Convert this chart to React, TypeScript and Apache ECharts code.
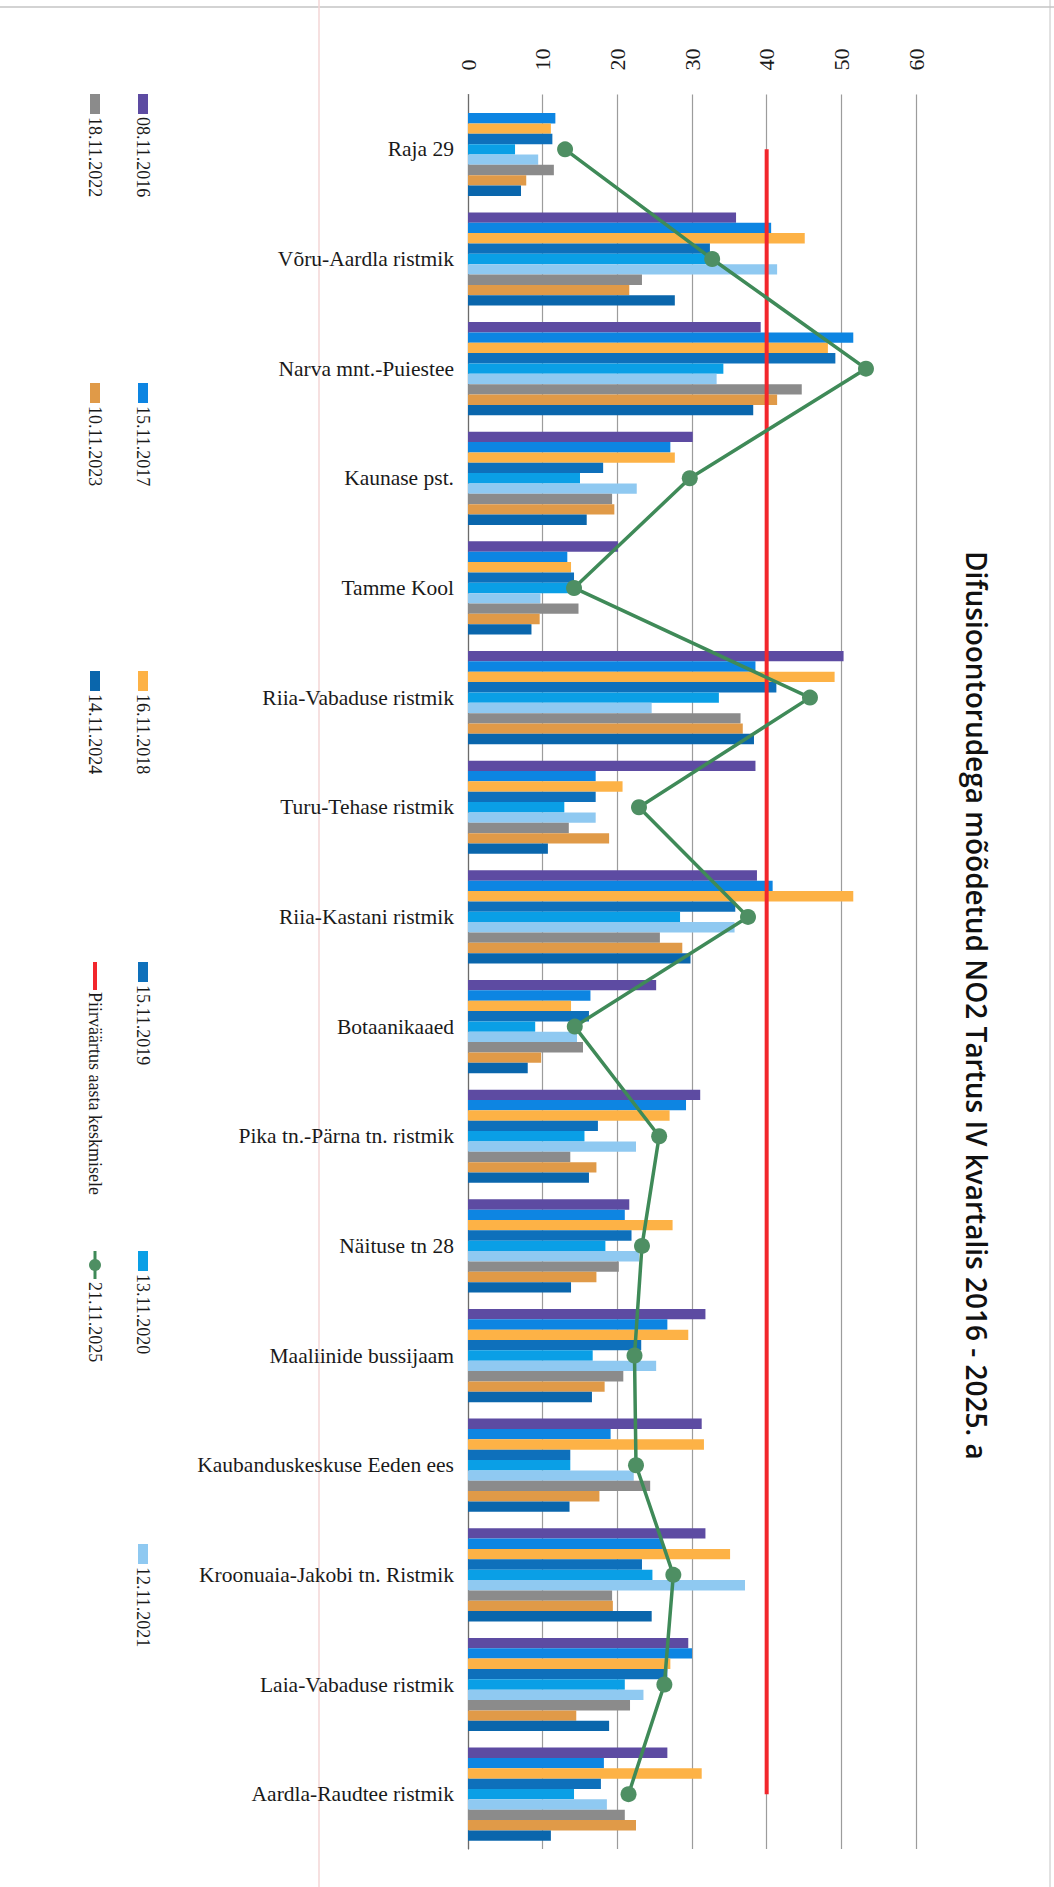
import React, { useEffect, useRef } from "react";
import * as echarts from "echarts";

const categories = [
  "Raja 29",
  "Võru-Aardla ristmik",
  "Narva mnt.-Puiestee",
  "Kaunase pst.",
  "Tamme Kool",
  "Riia-Vabaduse ristmik",
  "Turu-Tehase ristmik",
  "Riia-Kastani ristmik",
  "Botaanikaaed",
  "Pika tn.-Pärna tn. ristmik",
  "Näituse tn 28",
  "Maaliinide bussijaam",
  "Kaubanduskeskuse Eeden ees",
  "Kroonuaia-Jakobi tn. Ristmik",
  "Laia-Vabaduse ristmik",
  "Aardla-Raudtee ristmik",
];

const barNames = [
  "08.11.2016",
  "15.11.2017",
  "16.11.2018",
  "15.11.2019",
  "13.11.2020",
  "12.11.2021",
  "18.11.2022",
  "10.11.2023",
  "14.11.2024",
];
const barColors = [
  "#5d4ba2",
  "#0d85e2",
  "#fdb246",
  "#0e70bb",
  "#0a9fe6",
  "#8fc9f1",
  "#8b8b8b",
  "#e09a48",
  "#0a66ac",
];

const v2016 = [null, 35.9, 39.2, 30.1, 20.1, 50.3, 38.5, 38.7, 25.2, 31.1, 21.6, 31.8, 31.3, 31.8, 29.5, 26.7];
const v2017 = [11.7, 40.6, 51.6, 27.1, 13.3, 38.5, 17.1, 40.8, 16.4, 29.2, 21.0, 26.7, 19.1, 26.1, 30.0, 18.2];
const v2018 = [11.1, 45.1, 48.2, 27.7, 13.8, 49.1, 20.7, 51.6, 13.8, 27.0, 27.4, 29.5, 31.6, 35.1, 27.1, 31.3];
const v2019 = [11.3, 32.4, 49.2, 18.1, 14.2, 41.3, 17.1, 35.8, 16.2, 17.4, 21.9, 23.2, 13.7, 23.3, 26.7, 17.8];
const v2020 = [6.3, 32.0, 34.2, 15.0, 13.5, 33.6, 12.9, 28.4, 9.0, 15.6, 18.4, 16.7, 13.7, 24.7, 21.0, 14.2];
const v2021 = [9.4, 41.4, 33.3, 22.6, 9.7, 24.6, 17.1, 35.7, 14.6, 22.5, 22.9, 25.2, 22.2, 37.1, 23.5, 18.6];
const v2022 = [11.5, 23.3, 44.7, 19.3, 14.8, 36.5, 13.5, 25.7, 15.4, 13.7, 20.2, 20.8, 24.4, 19.3, 21.7, 21.0];
const v2023 = [7.8, 21.6, 41.4, 19.6, 9.6, 36.8, 18.9, 28.7, 9.8, 17.2, 17.2, 18.3, 17.6, 19.4, 14.5, 22.5];
const v2024 = [7.1, 27.7, 38.2, 15.9, 8.5, 38.3, 10.7, 29.8, 8.0, 16.2, 13.8, 16.6, 13.6, 24.6, 18.9, 11.1];
const barValues = [v2016, v2017, v2018, v2019, v2020, v2021, v2022, v2023, v2024];

const lineName = "21.11.2025";
const v2025 = [13.0, 32.7, 53.3, 29.7, 14.2, 45.8, 22.9, 37.5, 14.3, 25.6, 23.3, 22.3, 22.5, 27.5, 26.3, 21.5];

const limitName = "Piirväärtus aasta keskmisele";
const limitValues = [40, 40, 40, 40, 40, 40, 40, 40, 40, 40, 40, 40, 40, 40, 40, 40];

const titleText = "Difusioontorudega mõõdetud NO2 Tartus IV kvartalis 2016 - 2025. a";

const GREEN = "#3f8a58";
const RED = "#f2262c";

export default function App() {
  const ref = useRef<HTMLDivElement>(null);

  useEffect(() => {
    document.body.style.margin = "0";
    const chart = echarts.init(ref.current!, null, { renderer: "svg" });

    const barSeries = barNames.map((name, i) => ({
      name,
      type: "bar",
      data: barValues[i],
      barGap: "0%",
      barCategoryGap: "15%",
      itemStyle: { color: barColors[i] },
      z: 2,
    }));

    // legend drawn rotated (the whole chart is rotated 90° clockwise)
    const legendRows = [94, 383, 671, 962, 1251, 1544];
    const colRight = 143;
    const colLeft = 95;
    const legendFont = '18px "Liberation Serif"';
    const legendItems: any[] = [];
    const entries: { name: string; kind: string; color: string }[] = [];
    barNames.forEach((n, i) => entries.push({ name: n, kind: "bar", color: barColors[i] }));
    entries.push({ name: limitName, kind: "limit", color: RED });
    entries.push({ name: lineName, kind: "line", color: GREEN });
    entries.forEach((e, idx) => {
      const col = idx < 6 ? colRight : colLeft;
      const y0 = legendRows[idx % 6];
      let textY = y0 + 23;
      if (e.kind === "bar") {
        legendItems.push({
          type: "rect",
          shape: { x: col - 5, y: y0, width: 10, height: 20 },
          style: { fill: e.color },
        });
      } else if (e.kind === "limit") {
        legendItems.push({
          type: "line",
          shape: { x1: col, y1: y0, x2: col, y2: y0 + 28 },
          style: { stroke: e.color, lineWidth: 4 },
        });
        textY = y0 + 30;
      } else {
        legendItems.push({
          type: "line",
          shape: { x1: col, y1: y0, x2: col, y2: y0 + 28 },
          style: { stroke: e.color, lineWidth: 3 },
        });
        legendItems.push({
          type: "circle",
          shape: { cx: col, cy: y0 + 14, r: 6 },
          style: { fill: "#4e8f63" },
        });
        textY = y0 + 31;
      }
      legendItems.push({
        type: "text",
        x: col,
        y: textY,
        rotation: -Math.PI / 2,
        style: {
          text: e.name,
          font: legendFont,
          fill: "#1a1a1a",
          align: "left",
          verticalAlign: "middle",
        },
      });
    });

    const option: any = {
      animation: false,
      backgroundColor: "#ffffff",
      grid: { left: 468, right: 138, top: 94.5, bottom: 38, containLabel: false },
      xAxis: {
        type: "value",
        position: "top",
        min: 0,
        max: 60,
        interval: 10,
        axisLine: { show: false },
        axisTick: { show: false },
        splitLine: { show: true, lineStyle: { color: "#9c9c9c", width: 1.2 } },
        axisLabel: {
          rotate: -90,
          margin: 24,
          fontFamily: "Liberation Serif",
          fontSize: 22,
          color: "#1a1a1a",
        },
      },
      yAxis: {
        type: "category",
        inverse: true,
        data: categories,
        axisLine: { show: true, lineStyle: { color: "#6b6b6b", width: 1.2 } },
        axisTick: { show: false },
        axisLabel: {
          margin: 14,
          fontFamily: "Liberation Serif",
          fontSize: 21.5,
          color: "#1a1a1a",
        },
      },
      series: [
        ...barSeries,
        {
          name: limitName,
          type: "line",
          data: limitValues,
          symbol: "none",
          lineStyle: { color: RED, width: 4 },
          itemStyle: { color: RED },
          z: 3,
        },
        {
          name: lineName,
          type: "line",
          data: v2025,
          symbol: "circle",
          symbolSize: 16,
          lineStyle: { color: GREEN, width: 3.5 },
          itemStyle: { color: "#4e8f63" },
          z: 4,
        },
      ],
      graphic: [
        {
          type: "line",
          shape: { x1: 0, y1: 7, x2: 1054, y2: 7 },
          style: { stroke: "#a8a8a8", lineWidth: 1.2 },
          silent: true,
        },
        {
          type: "line",
          shape: { x1: 1050, y1: 0, x2: 1050, y2: 1887 },
          style: { stroke: "#c4c4c4", lineWidth: 1 },
          silent: true,
        },
        {
          type: "line",
          shape: { x1: 319, y1: 0, x2: 319, y2: 1887 },
          style: { stroke: "#f3d6d6", lineWidth: 1.5 },
          silent: true,
        },
        {
          type: "text",
          x: 977,
          y: 551,
          rotation: -Math.PI / 2,
          style: {
            text: titleText,
            font: '600 28px "Open Sans"',
            fill: "#111111",
            align: "left",
            verticalAlign: "middle",
          },
        },
        ...legendItems,
      ],
    };

    chart.setOption(option);
    return () => chart.dispose();
  }, []);

  return (
    <div
      ref={ref}
      style={{ position: "absolute", left: 0, top: 0, width: 1054, height: 1887, background: "#fff" }}
    />
  );
}
